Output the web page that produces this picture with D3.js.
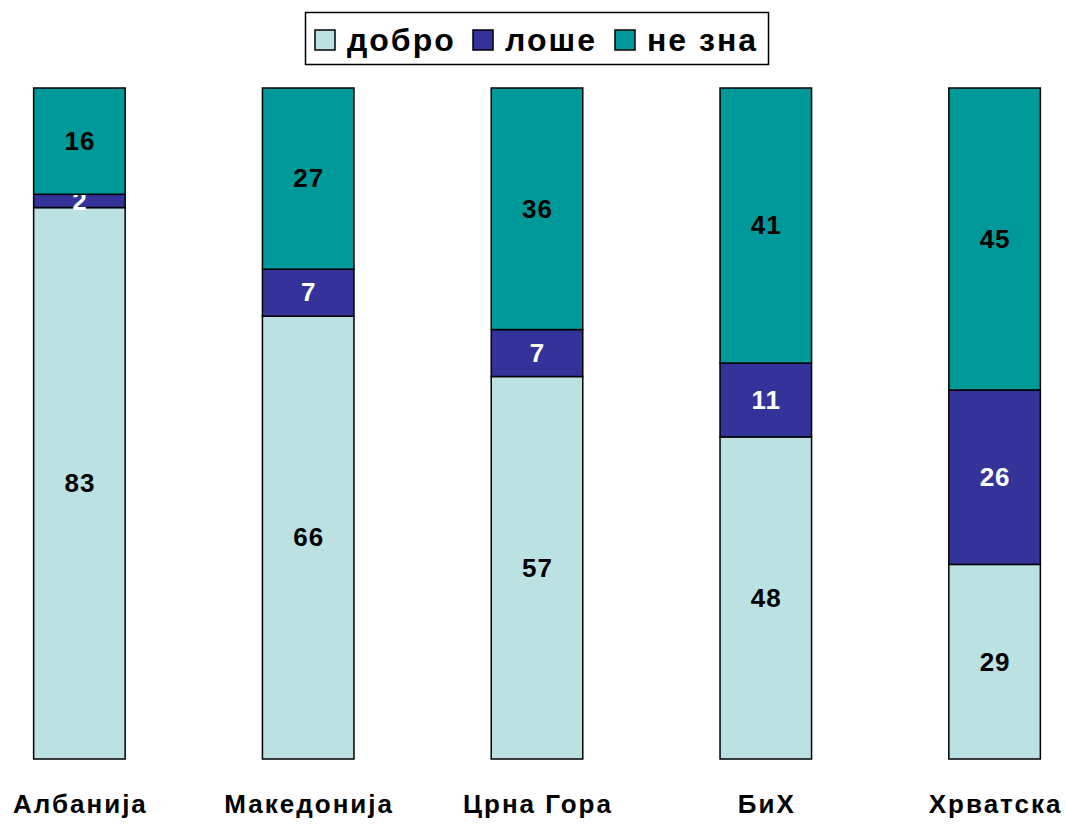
<!DOCTYPE html>
<html>
<head>
<meta charset="utf-8">
<script src="https://cdn.jsdelivr.net/npm/d3@7"></script>
<style>
  body { margin: 0; background: #fff; }
  svg { display: block; font-family: Arial, "Liberation Sans", sans-serif; font-weight: bold; }
</style>
</head>
<body>
<div id="chart"></div>
<script>
// data
var countries = ['Албанија', 'Македонија', 'Црна Гора', 'БиХ', 'Хрватска'];
var series = ['добро', 'лоше', 'не зна'];
var dobro = [83, 66, 57, 48, 29];
var lose = [2, 7, 7, 11, 26];
var neZna = [16, 27, 36, 41, 45];

var colors = ['#bce1e3', '#333399', '#009999'];
var textColors = ['#000', '#fff', '#000'];

var width = 1066, height = 824;

var rows = countries.map(function(c, i) {
  var total = dobro[i] + lose[i] + neZna[i];
  return { country: c, 'добро': dobro[i] / total, 'лоше': lose[i] / total, 'не зна': neZna[i] / total,
           raw: [dobro[i], lose[i], neZna[i]] };
});

var stack = d3.stack().keys(series);
var layers = stack(rows);

var x = d3.scaleBand()
  .domain(countries)
  .range([-35, 1109])
  .paddingInner(0.6)
  .paddingOuter(0.3);

var y = d3.scaleLinear()
  .domain([0, 1])
  .range([759, 88]);

var svg = d3.select('#chart').append('svg')
  .attr('width', width)
  .attr('height', height);

var layer = svg.selectAll('g.layer')
  .data(layers)
  .enter().append('g')
  .attr('class', 'layer');

layer.selectAll('rect')
  .data(function(d) { return d; })
  .enter().append('rect')
  .attr('x', function(d) { return x(d.data.country); })
  .attr('y', function(d) { return y(d[1]); })
  .attr('width', x.bandwidth())
  .attr('height', function(d) { return y(d[0]) - y(d[1]); })
  .attr('fill', function(d, i, nodes) { return colors[d3.select(nodes[i].parentNode).datum().index]; })
  .attr('stroke', '#000')
  .attr('stroke-width', 1.5);

layer.selectAll('text')
  .data(function(d) { return d.map(function(v) { return { v: v, k: d.index }; }); })
  .enter().append('text')
  .attr('x', function(d) { return x(d.v.data.country) + x.bandwidth() / 2 + 0.5; })
  .attr('y', function(d) { return (y(d.v[0]) + y(d.v[1])) / 2; })
  .attr('dy', '0.34em')
  .attr('text-anchor', 'middle')
  .attr('font-size', 26)
  .attr('letter-spacing', 1)
  .attr('fill', function(d) { return textColors[d.k]; })
  .text(function(d) { return d.v.data.raw[d.k]; });

// category labels
var xAxis = svg.append('g');
xAxis.selectAll('text')
  .data(countries)
  .enter().append('text')
  .attr('x', function(d) { return x(d) + x.bandwidth() / 2 + 1; })
  .attr('y', 813)
  .attr('text-anchor', 'middle')
  .attr('font-size', 26)
  .attr('letter-spacing', 2)
  .attr('fill', '#000')
  .text(function(d) { return d; });

// legend
var legend = svg.append('g');
legend.append('rect')
  .attr('x', 305.5).attr('y', 12.5)
  .attr('width', 463).attr('height', 52)
  .attr('fill', '#fff')
  .attr('stroke', '#000')
  .attr('stroke-width', 1.5);

var legendX = [315, 473, 615];
var item = legend.selectAll('g.item')
  .data(series)
  .enter().append('g')
  .attr('class', 'item')
  .attr('transform', function(d, i) { return 'translate(' + legendX[i] + ',30)'; });

item.append('rect')
  .attr('width', 20).attr('height', 20)
  .attr('fill', function(d, i) { return colors[i]; })
  .attr('stroke', '#000')
  .attr('stroke-width', 1.5);

item.append('text')
  .attr('x', 32)
  .attr('y', 21)
  .attr('font-size', 32)
  .attr('letter-spacing', 2)
  .attr('fill', '#000')
  .text(function(d) { return d; });
</script>
</body>
</html>
